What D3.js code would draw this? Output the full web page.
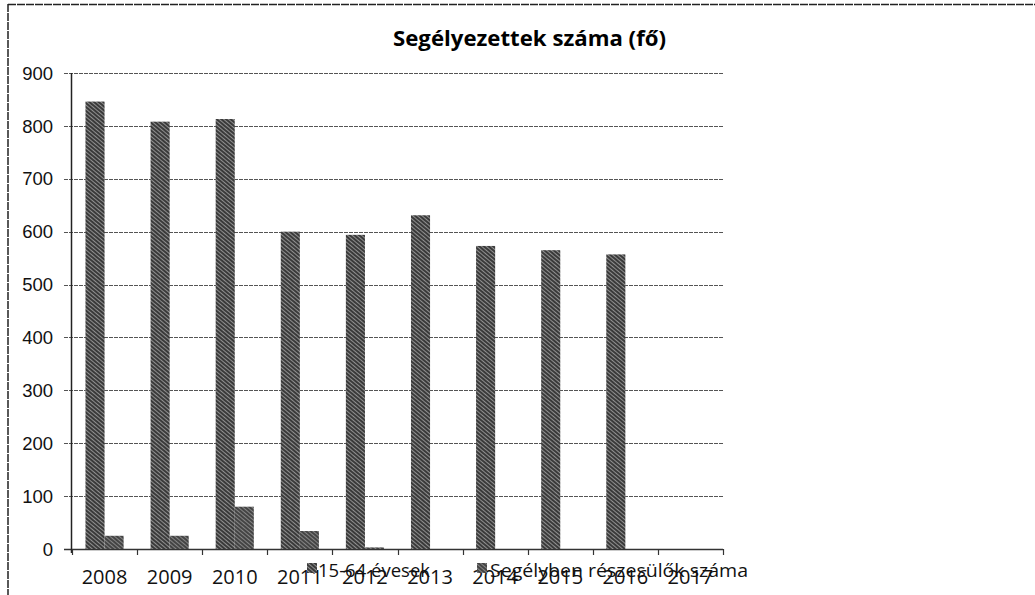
<!DOCTYPE html>
<html>
<head>
<meta charset="utf-8">
<script src="https://cdn.jsdelivr.net/npm/d3@7"></script>
<style>
  html, body { margin: 0; padding: 0; background: #fff; }
  svg { display: block; }
</style>
</head>
<body>
<div id="chart"></div>
<script>
// Segélyezettek száma (fő) — grouped bars, scanned grayscale look
const years = ['2008', '2009', '2010', '2011', '2012', '2013', '2014', '2015', '2016', '2017'];
const seriesNames = ['15-64 évesek', 'Segélyben részesülők száma'];
const age1564 = [846, 808, 813, 600, 594, 631, 573, 565, 557, null];
const recipients = [25, 25, 80, 34, 3, null, null, null, null, null];
const yTicks = [0, 100, 200, 300, 400, 500, 600, 700, 800, 900];

const W = 1035, H = 595;
const plot = { left: 72, right: 723, top: 73, bottom: 549 };

const svg = d3.select('#chart').append('svg').attr('width', W).attr('height', H);

// scan-like texture for the bars
const defs = svg.append('defs');
function texture(id, base, streak) {
  const p = defs.append('pattern').attr('id', id).attr('patternUnits', 'userSpaceOnUse')
    .attr('width', 3).attr('height', 3).attr('patternTransform', 'rotate(-50)');
  p.append('rect').attr('width', 3).attr('height', 3).attr('fill', base);
  p.append('rect').attr('width', 0.9).attr('height', 3).attr('fill', streak);
}
texture('tex1', '#3a3a3a', '#9a9a9a');
texture('tex2', '#444', '#8c8c8c');
const fills = ['url(#tex1)', 'url(#tex2)'];

// frame (only top and left edges survive in the scan)
svg.append('line').attr('x1', 8).attr('x2', W).attr('y1', 4.5).attr('y2', 4.5)
  .attr('stroke', '#222').attr('stroke-width', 1.5).attr('stroke-dasharray', '8 1');
svg.append('line').attr('x1', 8).attr('x2', 8).attr('y1', 4).attr('y2', H)
  .attr('stroke', '#222').attr('stroke-width', 1.5).attr('stroke-dasharray', '8 1');

const x = d3.scaleBand().domain(years).range([plot.left, plot.right]).padding(0);
const xs = d3.scaleBand().domain(seriesNames)
  .range([x.bandwidth() * 0.207, x.bandwidth() * 0.793]).padding(0);
const y = d3.scaleLinear().domain([0, 900]).range([plot.bottom, plot.top]);

// gridlines
svg.append('g').selectAll('line').data(yTicks).join('line')
  .attr('x1', plot.left - 8).attr('x2', plot.right)
  .attr('y1', d => Math.round(y(d)) + 0.5).attr('y2', d => Math.round(y(d)) + 0.5)
  .attr('stroke', d => d === 0 ? '#333' : '#555')
  .attr('stroke-width', d => d === 0 ? 1.5 : 1.1)
  .attr('stroke-dasharray', d => d === 0 ? null : '4 1');

// y labels
svg.append('g').selectAll('text').data(yTicks).join('text')
  .attr('x', 53).attr('y', d => y(d)).attr('dy', '0.36em')
  .attr('text-anchor', 'end')
  .attr('font-family', '"Liberation Sans", Arial, sans-serif').attr('font-size', 18.5)
  .attr('fill', '#111').text(d => d);

// vertical axis line
svg.append('line').attr('x1', plot.left - 0.5).attr('x2', plot.left - 0.5)
  .attr('y1', plot.top).attr('y2', plot.bottom + 4)
  .attr('stroke', '#222').attr('stroke-width', 1.5);

// bottom ticks at category boundaries
const bounds = years.map(d => x(d)).concat([x(years[years.length - 1]) + x.bandwidth()]);
svg.append('g').selectAll('line').data(bounds).join('line')
  .attr('x1', d => Math.round(d) + 0.5).attr('x2', d => Math.round(d) + 0.5)
  .attr('y1', plot.bottom).attr('y2', plot.bottom + 6)
  .attr('stroke', '#333').attr('stroke-width', 1.2);

// bars
const rows = years.map((yr, i) => ({ year: yr, values: [age1564[i], recipients[i]] }));
const groups = svg.append('g').selectAll('g').data(rows).join('g')
  .attr('transform', d => `translate(${x(d.year)},0)`);
groups.selectAll('rect')
  .data(d => d.values.map((v, k) => ({ key: seriesNames[k], k, v })).filter(e => e.v != null))
  .join('rect')
  .attr('x', e => xs(e.key)).attr('width', xs.bandwidth())
  .attr('y', e => y(e.v)).attr('height', e => y(0) - y(e.v))
  .attr('fill', e => fills[e.k]);

// x labels
svg.append('g').selectAll('text').data(years).join('text')
  .attr('x', d => x(d) + x.bandwidth() / 2).attr('y', 584)
  .attr('text-anchor', 'middle')
  .attr('font-family', '"Open Sans", sans-serif').attr('font-size', 20)
  .attr('fill', '#111').text(d => d);

// legend (overlaps the axis labels, as in the original)
const legendPos = [{ mx: 307, tx: 318, len: 112 }, { mx: 477, tx: 490, len: 258 }];
const lg = svg.append('g').selectAll('g').data(seriesNames).join('g');
lg.append('rect')
  .attr('x', (d, i) => legendPos[i].mx).attr('y', 563).attr('width', 10).attr('height', 10)
  .attr('fill', (d, i) => fills[i]);
lg.append('text')
  .attr('x', (d, i) => legendPos[i].tx).attr('y', 577)
  .attr('textLength', (d, i) => legendPos[i].len).attr('lengthAdjust', 'spacingAndGlyphs')
  .attr('font-family', '"Open Sans", sans-serif').attr('font-size', 18)
  .attr('fill', '#111').text(d => d);

// title
svg.append('text').attr('x', 393).attr('y', 46)
  .attr('textLength', 273).attr('lengthAdjust', 'spacingAndGlyphs')
  .attr('font-family', '"Open Sans", sans-serif').attr('font-weight', 'bold').attr('font-size', 21)
  .attr('fill', '#000').text('Segélyezettek száma (fő)');
</script>
</body>
</html>
